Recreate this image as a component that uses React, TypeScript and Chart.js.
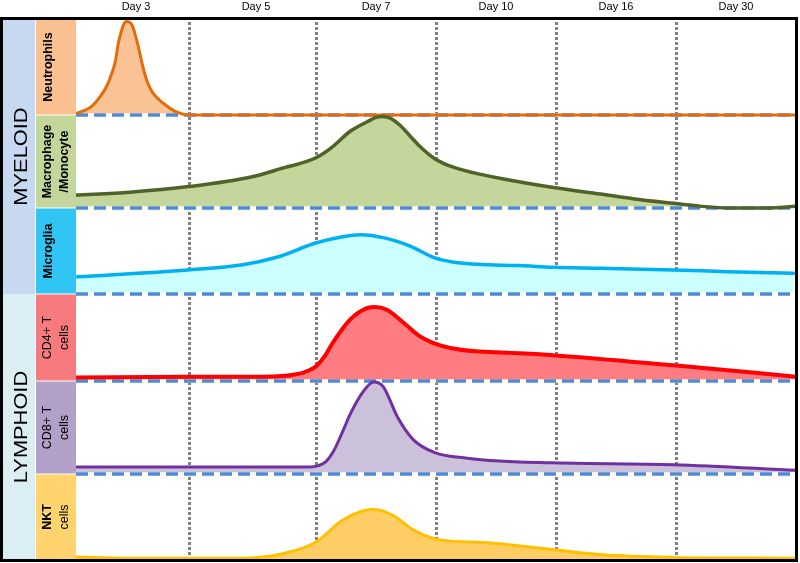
import React, { useEffect, useRef } from 'react';
import { Chart, registerables } from 'chart.js';

Chart.register(...registerables);

// ---------- categories / ticks ----------
const DAY_LABELS = ['Day 3', 'Day 5', 'Day 7', 'Day 10', 'Day 16', 'Day 30'];
const DAY_LABEL_POS = [0.5, 1.5, 2.5, 3.5, 4.5, 5.5];
const DAY_BOUNDARIES = [0.94, 2, 3, 4, 5];

// row edges on the y scale, bottom-up (NKT, CD8, CD4, Microglia, Macrophage, Neutrophils)
const ROW_EDGES = [0, 0.954, 1.985, 2.95, 3.904, 4.935, 6];

// ---------- series (x = time position, v = relative level in row) ----------
const neutrophilsX = [0.01, 0.12, 0.2, 0.26, 0.3, 0.33, 0.35, 0.38, 0.4, 0.42, 0.44, 0.47, 0.49, 0.52, 0.55, 0.59, 0.64, 0.73, 0.84, 0.95, 2, 4, 6];
const neutrophilsV = [0.02, 0.08, 0.19, 0.31, 0.44, 0.57, 0.73, 0.88, 0.95, 0.975, 0.97, 0.93, 0.85, 0.71, 0.54, 0.36, 0.23, 0.12, 0.03, 0, 0, 0, 0];

const macrophageX = [0, 0.45, 0.94, 1.45, 1.7, 2.0, 2.14, 2.28, 2.43, 2.5, 2.56, 2.62, 2.7, 2.78, 2.86, 2.99, 3.12, 3.31, 3.53, 3.98, 4.37, 4.64, 4.98, 5.2, 5.43, 5.76, 6];
const macrophageV = [0.14, 0.17, 0.23, 0.33, 0.42, 0.54, 0.66, 0.82, 0.93, 0.975, 0.985, 0.965, 0.89, 0.78, 0.67, 0.53, 0.45, 0.38, 0.32, 0.22, 0.15, 0.1, 0.05, 0.02, 0.0, 0.0, 0.02];

const microgliaX = [0.01, 0.93, 1.39, 1.68, 1.99, 2.2, 2.37, 2.58, 2.78, 2.99, 3.15, 3.35, 3.7, 3.98, 4.37, 4.98, 5.43, 5.98];
const microgliaV = [0.2, 0.28, 0.34, 0.43, 0.59, 0.66, 0.69, 0.65, 0.56, 0.42, 0.37, 0.345, 0.33, 0.31, 0.3, 0.28, 0.26, 0.24];

const cd4X = [0, 0.93, 1.5, 1.68, 1.8, 1.9, 2.0, 2.07, 2.14, 2.28, 2.43, 2.49, 2.59, 2.73, 2.87, 2.99, 3.12, 3.3, 3.5, 3.7, 3.95, 4.98, 6];
const cd4V = [0.04, 0.05, 0.05, 0.055, 0.07, 0.1, 0.17, 0.28, 0.44, 0.7, 0.84, 0.85, 0.82, 0.67, 0.51, 0.43, 0.38, 0.345, 0.33, 0.32, 0.3, 0.18, 0.05];

const cd8X = [0, 1.95, 2.02, 2.08, 2.14, 2.23, 2.28, 2.39, 2.48, 2.56, 2.68, 2.81, 2.99, 3.26, 3.53, 3.95, 4.98, 6];
const cd8V = [0.075, 0.075, 0.09, 0.13, 0.23, 0.48, 0.63, 0.88, 0.99, 0.94, 0.61, 0.37, 0.23, 0.17, 0.14, 0.12, 0.1, 0.04];

const nktX = [0, 0.43, 1.39, 1.68, 1.99, 2.23, 2.47, 2.64, 2.81, 3.01, 3.43, 3.98, 4.39, 4.98, 5.98];
const nktV = [0.035, 0.02, 0.02, 0.06, 0.2, 0.47, 0.59, 0.52, 0.35, 0.24, 0.2, 0.12, 0.06, 0.03, 0.02];

// ---------- row labels (bottom-up) ----------
const ROW_LABELS = [['NKT', 'cells'], ['CD8+ T', 'cells'], ['CD4+ T', 'cells'], ['Microglia'], ['Macrophage', '/Monocyte'], ['Neutrophils']];
const ROW_BOLD = [[true, false], [false, false], [false, false], [true], [true, true], [true]];
const GROUP_LABELS = ['LYMPHOID', 'MYELOID'];

// ---------- styles ----------
const ROW_STYLE = [
  { line: '#FFC000', fill: '#FFCD66', box: '#FFD36E', width: 3 },
  { line: '#7030A0', fill: '#CCC1DA', box: '#B1A0C7', width: 3 },
  { line: '#FF0000', fill: '#FF7C80', box: '#F77A7E', width: 4 },
  { line: '#00B0F0', fill: '#CCFFFF', box: '#31C5F4', width: 3.5 },
  { line: '#4F6228', fill: '#C3D69B', box: '#C3D69B', width: 3.5 },
  { line: '#E46C0A', fill: '#FAC396', box: '#FAC090', width: 3 },
];
const GROUP_STYLE = [
  { color: '#DBEEF4', from: 0, to: 2 },
  { color: '#C6D9F1', from: 3, to: 5 },
];
const FONT = '"Liberation Sans", Arial, sans-serif';

const SERIES = [
  [nktX, nktV],
  [cd8X, cd8V],
  [cd4X, cd4V],
  [microgliaX, microgliaV],
  [macrophageX, macrophageV],
  [neutrophilsX, neutrophilsV],
];

function vText(ctx: CanvasRenderingContext2D, lines: string[], bold: boolean[], cx: number, cy: number, size: number, gap: number, stretch = 1) {
  ctx.save();
  ctx.translate(cx, cy);
  ctx.rotate(-Math.PI / 2);
  ctx.scale(stretch, 1);
  ctx.textAlign = 'center';
  ctx.textBaseline = 'middle';
  ctx.fillStyle = '#000';
  const n = lines.length;
  lines.forEach((l, i) => {
    ctx.font = `${bold[i] ? 'bold ' : ''}${size}px ${FONT}`;
    ctx.fillText(l, 0, (i - (n - 1) / 2) * gap);
  });
  ctx.restore();
}

const decor = {
  id: 'decor',
  beforeDraw(chart: any) {
    const { ctx, scales } = chart;
    const y = scales.y;
    const x = scales.x;
    ctx.save();
    ctx.fillStyle = '#fff';
    ctx.fillRect(0, 0, chart.width, chart.height);
    // group bands
    GROUP_STYLE.forEach((g, gi) => {
      const top = y.getPixelForValue(ROW_EDGES[g.to + 1]);
      const bot = y.getPixelForValue(ROW_EDGES[g.from]);
      ctx.fillStyle = g.color;
      ctx.fillRect(3, top, 32, bot - top);
      vText(ctx, [GROUP_LABELS[gi]], [false], 21.5, (top + bot) / 2, 18.5, 0, 1.18);
    });
    // row boxes
    ROW_STYLE.forEach((s, i) => {
      const top = y.getPixelForValue(ROW_EDGES[i + 1]);
      const bot = y.getPixelForValue(ROW_EDGES[i]);
      ctx.fillStyle = s.box;
      ctx.fillRect(36, top + 0.5, 40, bot - top - 1);
      const lines = ROW_LABELS[i];
      const cx = lines.length === 1 ? 49 : 56;
      vText(ctx, lines, ROW_BOLD[i], cx, (top + bot) / 2, 12.5, 17);
    });
    // day labels
    ctx.fillStyle = '#000';
    ctx.font = `11px ${FONT}`;
    ctx.textAlign = 'center';
    ctx.textBaseline = 'middle';
    DAY_LABELS.forEach((d, i) => {
      ctx.fillText(d, x.getPixelForValue(DAY_LABEL_POS[i]), 7);
    });
    ctx.restore();
  },
  beforeDatasetsDraw(chart: any) {
    const { ctx, chartArea, scales } = chart;
    ctx.save();
    ctx.strokeStyle = '#808080';
    ctx.lineWidth = 3;
    ctx.setLineDash([3, 2]);
    DAY_BOUNDARIES.forEach((b) => {
      const px = Math.round(scales.x.getPixelForValue(b)) + 0.5;
      ctx.beginPath();
      ctx.moveTo(px, chartArea.top + 3);
      ctx.lineTo(px, chartArea.bottom);
      ctx.stroke();
    });
    ctx.restore();
  },
  afterDraw(chart: any) {
    const { ctx } = chart;
    ctx.save();
    ctx.strokeStyle = '#000';
    ctx.lineWidth = 3;
    ctx.setLineDash([]);
    ctx.strokeRect(1.5, 18.5, 795, 542);
    ctx.restore();
  },
};

export default function App() {
  const ref = useRef<HTMLCanvasElement>(null);
  useEffect(() => {
    document.body.style.margin = '0';
    const datasets: any[] = [];
    SERIES.forEach(([xs, vs], i) => {
      const base = ROW_EDGES[i];
      const h = ROW_EDGES[i + 1] - ROW_EDGES[i];
      const pts = xs.map((xv, k) => ({ x: xv, y: base + vs[k] * h }));
      const s = ROW_STYLE[i];
      datasets.push({
        data: pts,
        borderWidth: 0,
        borderColor: 'rgba(0,0,0,0)',
        backgroundColor: s.fill,
        fill: { value: base },
        pointRadius: 0,
        cubicInterpolationMode: 'monotone',
        order: 5,
      });
      datasets.push({
        data: pts,
        borderWidth: s.width,
        borderColor: s.line,
        fill: false,
        pointRadius: 0,
        cubicInterpolationMode: 'monotone',
        borderCapStyle: 'round',
        borderJoinStyle: 'round',
        order: 1,
      });
    });
    for (let e = 1; e < ROW_EDGES.length - 1; e++) {
      const pts = [{ x: 0, y: ROW_EDGES[e] }, { x: 6, y: ROW_EDGES[e] }];
      datasets.push({ data: pts, borderWidth: 3.5, borderColor: '#FFFFFF', fill: false, pointRadius: 0, order: 4 });
      datasets.push({ data: pts, borderWidth: 3.5, borderColor: '#4F8AD4', borderDash: [12, 6], fill: false, pointRadius: 0, order: 3 });
    }
    const chart = new Chart(ref.current!, {
      type: 'line',
      data: { datasets },
      options: {
        animation: false,
        responsive: false,
        events: [],
        layout: { padding: { left: 76, right: 4, top: 19, bottom: 3 } },
        plugins: { legend: { display: false }, tooltip: { enabled: false } },
        scales: {
          x: { type: 'linear', min: 0, max: 6, display: false },
          y: { type: 'linear', min: 0, max: 6, display: false },
        },
      },
      plugins: [decor],
    });
    return () => chart.destroy();
  }, []);
  return (
    <div style={{ width: 800, height: 563 }}>
      <canvas ref={ref} width={800} height={563} />
    </div>
  );
}
